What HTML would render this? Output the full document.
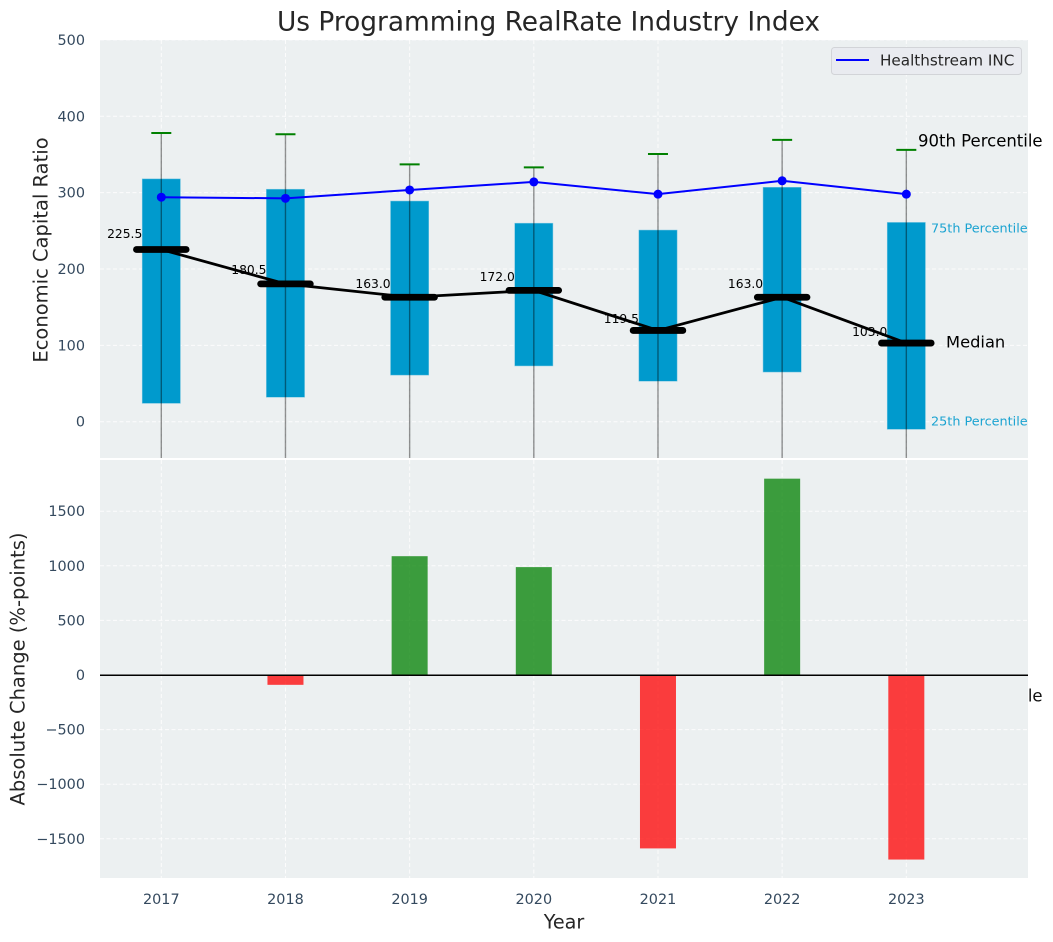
<!DOCTYPE html>
<html lang="en">
<head>
<meta charset="utf-8">
<title>Us Programming RealRate Industry Index</title>
<style>
html,body{margin:0;padding:0;background:#fff;}
svg{display:block;font-family:"DejaVu Sans","Liberation Sans",sans-serif;}
</style>
</head>
<body>
<svg id="chart" xmlns="http://www.w3.org/2000/svg" width="1053" height="942" viewBox="0 0 1053 942">
<defs>
<clipPath id="top-clip"><rect x="100" y="40" width="928" height="418"/></clipPath>
<clipPath id="bottom-clip"><rect x="100" y="460" width="928" height="418"/></clipPath>
</defs>
</svg>
<script>
const years = [2017, 2018, 2019, 2020, 2021, 2022, 2023];
const whiskerHigh = [378, 376.5, 337, 333, 350.5, 369, 356];
const whiskerLow = [-100, -100, -100, -100, -100, -100, -100];
const q3 = [318, 304.5, 289, 260, 251, 307, 261];
const q1 = [24, 32, 61, 73, 53, 65, -10];
const medians = [225.5, 180.5, 163.0, 172.0, 119.5, 163.0, 103.0];
const company = [294, 292.5, 303.5, 314, 298, 315.5, 298];
const changes = [null, -90, 1088, 988, -1588, 1798, -1690];
const topTicks = [0, 100, 200, 300, 400, 500];
const bottomTicks = [-1500, -1000, -500, 0, 500, 1000, 1500];

const svg = document.getElementById('chart');
const NS = 'http://www.w3.org/2000/svg';
const xScale = v => 161.3 + (v - 2017) * 124.17;
const yTop = v => 421.7 - v * 0.7636;
const yBottom = v => 675 - v * 0.1092;
const mk = (tag, attrs, text) => {
  const n = document.createElementNS(NS, tag);
  for (const k in attrs) n.setAttribute(k, attrs[k]);
  if (text !== undefined) n.textContent = text;
  return n;
};
const label = (x, y, size, fill, anchor, text, extra) =>
  mk('text', Object.assign({x: x, y: y, 'font-size': size, fill: fill, 'text-anchor': anchor, 'dominant-baseline': 'central'}, extra || {}), text);

const title = label(548.5, 22, 26.4, '#262626', 'middle', 'Us Programming RealRate Industry Index');


svg.appendChild(title);

/* text that sits behind the lower panel, only its tail stays visible */
const hidden = label(918, 696, 16.5, '#111', 'start', '25th Percentile');


svg.appendChild(hidden);

const topBg = mk('rect', {x: 100, y: 40, width: 928, height: 418, fill: '#ecf0f1'});


svg.appendChild(topBg);

const bottomBg = mk('rect', {x: 100, y: 460, width: 928, height: 418, fill: '#ecf0f1'});


svg.appendChild(bottomBg);

const gridStyle = {stroke: '#fff', 'stroke-width': 1, 'stroke-dasharray': '4 2.5', opacity: 0.85};

years.forEach(yr => {
  const x = xScale(yr);
  const g1 = mk('line', Object.assign({x1: x, x2: x, y1: 40, y2: 458}, gridStyle));
  
  
  svg.appendChild(g1);
  const g2 = mk('line', Object.assign({x1: x, x2: x, y1: 460, y2: 878}, gridStyle));
  
  
  svg.appendChild(g2);
  const t = label(x, 900, 14.4, '#34495e', 'middle', String(yr));
  
  
  svg.appendChild(t);
});

topTicks.forEach(v => {
  const y = yTop(v);
  const g = mk('line', Object.assign({x1: 100, x2: 1028, y1: y, y2: y}, gridStyle));
  
  
  svg.appendChild(g);
  const t = label(85, y + 1, 14.4, '#34495e', 'end', String(v));
  
  
  svg.appendChild(t);
});

bottomTicks.forEach(v => {
  const y = yBottom(v);
  const g = mk('line', Object.assign({x1: 100, x2: 1028, y1: y, y2: y}, gridStyle));
  
  
  svg.appendChild(g);
  const t = label(85, y + 1, 14.4, '#34495e', 'end', String(v).replace('-', '\u2212'));
  
  
  svg.appendChild(t);
});

const yLabelTop = label(41, 250, 19.5, '#262626', 'middle', 'Economic Capital Ratio', {transform: 'rotate(-90 41 250)'});


svg.appendChild(yLabelTop);

const yLabelBottom = label(18, 669, 19.5, '#262626', 'middle', 'Absolute Change (%-points)', {transform: 'rotate(-90 18 669)'});


svg.appendChild(yLabelBottom);

const xLabel = label(564, 922, 19.2, '#262626', 'middle', 'Year');


svg.appendChild(xLabel);

const topLayer = mk('g', {'clip-path': 'url(#top-clip)'});


svg.appendChild(topLayer);

const bottomLayer = mk('g', {'clip-path': 'url(#bottom-clip)'});


svg.appendChild(bottomLayer);

const boxHalf = 0.154 * 124.17;
const medianHalf = 0.2 * 124.17;
const capHalf = 10;

years.forEach((yr, i) => {
  const x = xScale(yr);
  const box = mk('rect', {x: x - boxHalf, y: yTop(q3[i]), width: boxHalf * 2, height: yTop(q1[i]) - yTop(q3[i]), fill: '#009ACD', stroke: '#7cc8e2', 'stroke-width': 0.5});
  
  
  topLayer.appendChild(box);
});

years.forEach((yr, i) => {
  const x = xScale(yr);
  const w = mk('line', {x1: x, x2: x, y1: yTop(whiskerHigh[i]), y2: yTop(whiskerLow[i]), stroke: '#000', 'stroke-opacity': 0.42, 'stroke-width': 1.4});
  
  
  topLayer.appendChild(w);
  const cap = mk('line', {x1: x - capHalf, x2: x + capHalf, y1: yTop(whiskerHigh[i]), y2: yTop(whiskerHigh[i]), stroke: '#008000', 'stroke-width': 2});
  
  
  topLayer.appendChild(cap);
});

years.forEach((yr, i) => {
  const t = label(xScale(yr) - 19, yTop(medians[i] * 1.05 + 9), 12.3, '#000', 'end', medians[i].toFixed(1));
  
  
  svg.appendChild(t);
});

const medianLine = mk('polyline', {points: years.map((yr, i) => xScale(yr) + ',' + yTop(medians[i])).join(' '), fill: 'none', stroke: '#000', 'stroke-width': 2.8});


svg.appendChild(medianLine);

years.forEach((yr, i) => {
  const x = xScale(yr);
  const m = mk('line', {x1: x - medianHalf, x2: x + medianHalf, y1: yTop(medians[i]), y2: yTop(medians[i]), stroke: '#000', 'stroke-width': 6.8, 'stroke-linecap': 'round'});
  
  
  svg.appendChild(m);
});

const companyLine = mk('polyline', {points: years.map((yr, i) => xScale(yr) + ',' + yTop(company[i])).join(' '), fill: 'none', stroke: '#0000ff', 'stroke-width': 2});


svg.appendChild(companyLine);

years.forEach((yr, i) => {
  const pt = mk('circle', {cx: xScale(yr), cy: yTop(company[i]), r: 4.5, fill: '#0000ff'});
  
  
  svg.appendChild(pt);
});

const barHalf = 0.145 * 124.17;
years.forEach((yr, i) => {
  if (changes[i] === null) return;
  const x = xScale(yr);
  const y0 = yBottom(0);
  const y1 = yBottom(changes[i]);
  const bar = mk('rect', {x: x - barHalf, y: Math.min(y0, y1), width: barHalf * 2, height: Math.abs(y1 - y0), fill: changes[i] >= 0 ? '#008000' : '#ff0000', 'fill-opacity': 0.75});
  
  
  bottomLayer.appendChild(bar);
});

const zero = mk('line', {x1: 100, x2: 1028, y1: yBottom(0) + 0.25, y2: yBottom(0) + 0.25, stroke: '#000', 'stroke-width': 1.5});


svg.appendChild(zero);

const lastX = xScale(years[years.length - 1]);

const l90 = label(lastX + 11.7, 141, 16.5, '#000', 'start', '90th Percentile');


svg.appendChild(l90);

const l75 = label(lastX + 24.7, 229, 12.8, '#1ba3d1', 'start', '75th Percentile');


svg.appendChild(l75);

const lMed = label(lastX + 39.7, 342, 16.3, '#000', 'start', 'Median');


svg.appendChild(lMed);

const l25 = label(lastX + 24.7, 422, 12.8, '#1ba3d1', 'start', '25th Percentile');


svg.appendChild(l25);

const legendBox = mk('rect', {x: 831.5, y: 47.5, width: 190, height: 27, rx: 3, fill: '#e9ebf0', stroke: '#d2d4d8', 'stroke-width': 1});


svg.appendChild(legendBox);

const legendLine = mk('line', {x1: 836, x2: 869, y1: 60, y2: 60, stroke: '#0000ff', 'stroke-width': 2});


svg.appendChild(legendLine);

const legendText = label(880, 60.5, 15.2, '#262626', 'start', 'Healthstream INC');


svg.appendChild(legendText);
</script>
</body>
</html>
